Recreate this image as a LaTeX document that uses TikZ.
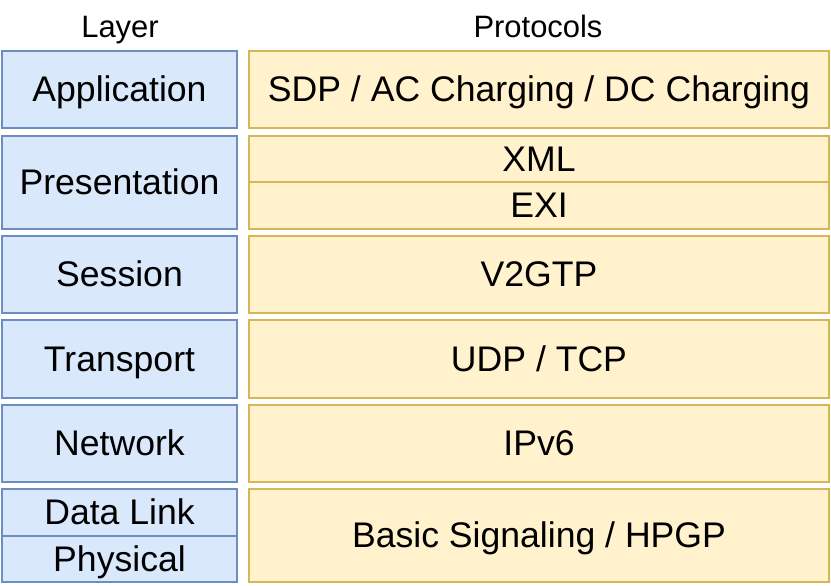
\documentclass[tikz,border=0pt]{standalone}
\usepackage{fontspec}
\setmainfont{Liberation Sans}
\definecolor{layerfill}{HTML}{DAE8FC}
\definecolor{layerdraw}{HTML}{6C8EBF}
\definecolor{protofill}{HTML}{FFF2CC}
\definecolor{protodraw}{HTML}{D6B656}
\tikzset{
  layerbox/.style={fill=layerfill, draw=layerdraw, line width=1.1pt},
  protobox/.style={fill=protofill, draw=protodraw, line width=1.1pt},
  lbl/.style={inner sep=0pt, text height=24pt, text depth=5.3pt, font=\fontsize{26.7pt}{30pt}\selectfont},
  hdr/.style={inner sep=0pt, text height=20.9pt, text depth=4.6pt, font=\fontsize{23.2pt}{26pt}\selectfont}
}
\begin{document}
\begin{tikzpicture}[x=0.75pt,y=0.75pt,yscale=-1,xscale=1]
\useasboundingbox (0,0) rectangle (831,585);

%Shape: Rectangle (layers)
\draw[layerbox] (2,51) rectangle (237,128);
\draw[layerbox] (2,136) rectangle (237,229);
\draw[layerbox] (2,236) rectangle (237,313);
\draw[layerbox] (2,320) rectangle (237,398);
\draw[layerbox] (2,405) rectangle (237,482);
\draw[layerbox] (2,489) rectangle (237,536);
\draw[layerbox] (2,536) rectangle (237,582);

%Shape: Rectangle (protocols)
\draw[protobox] (249,51) rectangle (829,128);
\draw[protobox] (249,136) rectangle (829,182);
\draw[protobox] (249,182) rectangle (829,229);
\draw[protobox] (249,236) rectangle (829,313);
\draw[protobox] (249,320) rectangle (829,398);
\draw[protobox] (249,405) rectangle (829,482);
\draw[protobox] (249,489) rectangle (829,582);

% Text Node
\draw (120,27) node[hdr] (layerhdr) {Layer};
% Text Node
\draw (538,27) node[hdr] (protohdr) {Protocols};

% Text Node
\draw (119.5,89.5) node[lbl] (app) {Application};
% Text Node
\draw (119.5,182.5) node[lbl] (pres) {Presentation};
% Text Node
\draw (119.5,274.5) node[lbl] (sess) {Session};
% Text Node
\draw (119.5,359) node[lbl] (trans) {Transport};
% Text Node
\draw (119.5,443.5) node[lbl] (net) {Network};
% Text Node
\draw (119.5,512.5) node[lbl] (link) {Data Link};
% Text Node
\draw (119.5,559) node[lbl] (phys) {Physical};

% Text Node
\draw (539,89.5) node[lbl] (sdp) {SDP / AC Charging / DC Charging};
% Text Node
\draw (539,159) node[lbl] (xml) {XML};
% Text Node
\draw (539,205.5) node[lbl] (exi) {EXI};
% Text Node
\draw (539,274.5) node[lbl] (v2g) {V2GTP};
% Text Node
\draw (539,359) node[lbl] (tcp) {UDP / TCP};
% Text Node
\draw (539,443.5) node[lbl] (ipv) {IPv6};
% Text Node
\draw (539,535.5) node[lbl] (hpgp) {Basic Signaling / HPGP};

\end{tikzpicture}
\end{document}
